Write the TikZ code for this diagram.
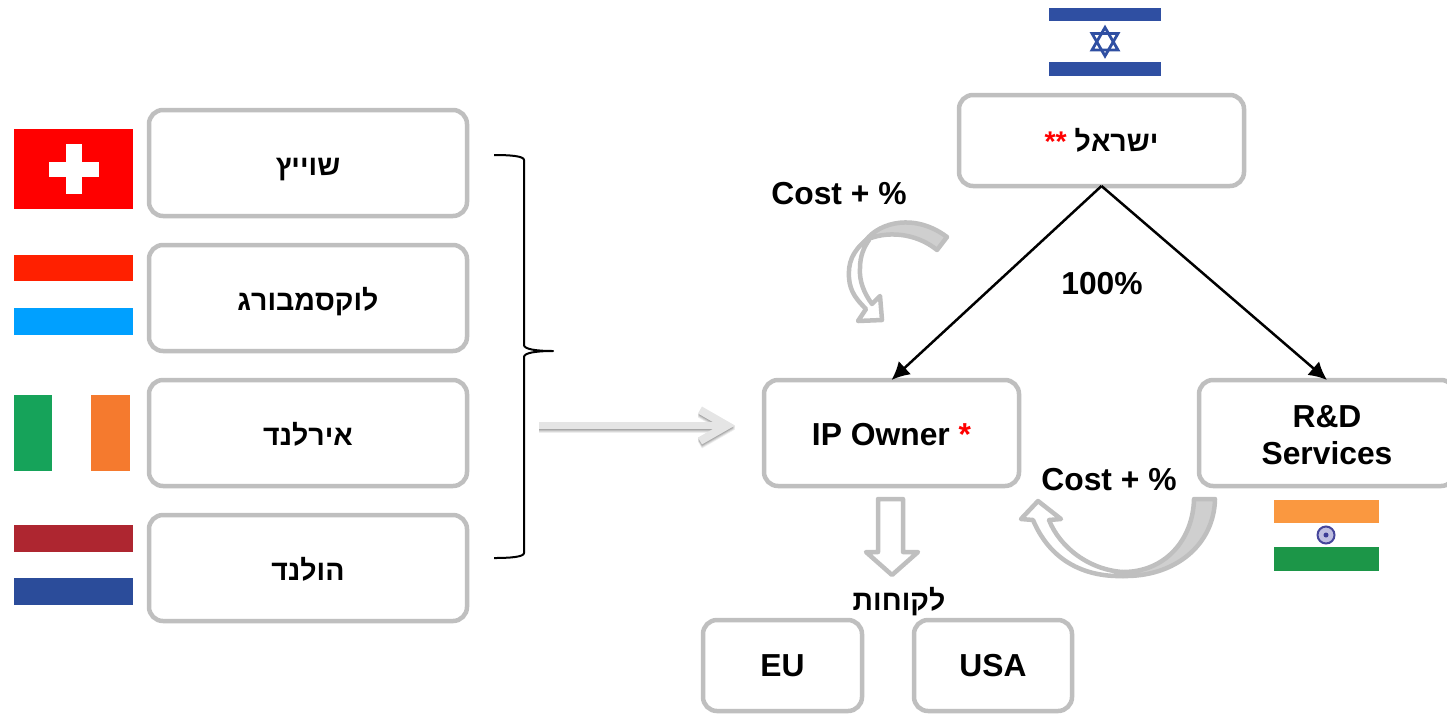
\documentclass[tikz,border=0pt]{standalone}
\usepackage{fontspec}
\setmainfont{Liberation Sans}
\usepackage{tikz}
\usetikzlibrary{arrows.meta}
\TeXXeTstate=1
\definecolor{boxgray}{HTML}{BFBFBF}
\definecolor{tailgray}{HTML}{CFCFCF}
\definecolor{isblue}{HTML}{2F4FA2}
\tikzset{
  box/.style={draw=boxgray,line width=4.5pt,rounded corners=14pt,fill=white,inner sep=0pt,outer sep=0pt,
    align=center,font=\bfseries\fontsize{31.8}{38}\selectfont},
  hebbox/.style={box,font=\bfseries\fontsize{28.5}{32}\selectfont,text height=24pt,text depth=0pt},
  lbl/.style={inner sep=0pt,align=center,font=\bfseries\fontsize{31.8}{38}\selectfont},
  hollow/.style={draw=boxgray,line width=4.5pt,line join=round,fill=white},
  link/.style={draw=black,line width=2.5pt,-{Latex[length=18pt,width=18pt]}},
  bigtip/.style={-{Straight Barb[length=27pt,width=31pt,line width=8pt]}}
}
\newcommand{\heb}[1]{\beginR #1\endR}
\begin{document}
\begin{tikzpicture}[x=1pt,y=-1pt]
\clip (0,0) rectangle (1447,713);

% left boxes
\foreach \nm/\yy/\txt in {swiss/163/שוייץ,lux/298/לוקסמבורג,ire/433/אירלנד,ned/568/הולנד}
  \node[hebbox,minimum width=318pt,minimum height=106pt] (\nm) at (308,\yy) {\heb{\txt}};

% flags
\fill[red] (14,129) rectangle (133,209);
\fill[white] (66,144) rectangle (82,194);
\fill[white] (49,162) rectangle (99,177);

\fill[fill={rgb,255:red,255;green,32;blue,0}] (14,255) rectangle (133,281);
\fill[fill={rgb,255:red,0;green,160;blue,255}] (14,308) rectangle (133,335);

\fill[fill={rgb,255:red,22;green,163;blue,90}] (14,395) rectangle (52,471);
\fill[fill={rgb,255:red,245;green,122;blue,46}] (91,395) rectangle (130,471);

\fill[fill={rgb,255:red,174;green,38;blue,48}] (14,525) rectangle (133,552);
\fill[fill={rgb,255:red,43;green,76;blue,154}] (14,578) rectangle (133,605);

\fill[isblue] (1049,8) rectangle (1161,21);
\fill[isblue] (1049,62) rectangle (1161,76);
\draw[isblue,line width=2.8pt,line join=miter] (1105,27.5) -- (1118,50) -- (1092,50) -- cycle;
\draw[isblue,line width=2.8pt,line join=miter] (1105,56) -- (1118,33.5) -- (1092,33.5) -- cycle;

\fill[fill={rgb,255:red,250;green,152;blue,64}] (1274,500) rectangle (1379,523);
\fill[fill={rgb,255:red,28;green,150;blue,72}] (1274,547) rectangle (1379,571);
\draw[fill={rgb,255:red,190;green,190;blue,225},draw={rgb,255:red,70;green,70;blue,155},line width=2pt] (1326,535) circle (8.5pt);
\fill[fill={rgb,255:red,60;green,60;blue,150}] (1326,535) circle (2.5pt);

% right boxes
\node[hebbox,text height=21pt,minimum width=285pt,minimum height=91pt] (israel) at (1101.5,140.5)
  {{\color{red}**} \heb{ישראל}};
\node[box,text height=24pt,text depth=0pt,minimum width=255pt,minimum height=106pt] (owner) at (891.5,433) {IP Owner {\color{red}*}};
\node[box,minimum width=256pt,minimum height=106pt] (rnd) at (1327,433) {\rule{0pt}{27pt}R\&D\\[-1pt]Services};
\node[box,minimum width=159pt,minimum height=91pt] (eu) at (782.5,665.5) {EU};
\node[box,minimum width=158pt,minimum height=91pt] (usa) at (993,665.5) {USA};

\draw[link] (israel.south) -- (owner.north);
\draw[link] (israel.south) -- (rnd.north);

% labels
\node[lbl] (costa) at (839,194) {Cost + \%};
\node[lbl] (pct) at (1102,284) {100\%};
\node[lbl] (costb) at (1109,480) {Cost + \%};
\node[lbl,font=\bfseries\fontsize{28.5}{32}\selectfont] (cust) at (899,602) {\heb{לקוחות}};

% brace
\draw[black,line width=2pt,line join=round] (494,155) .. controls (510,155) and (524,156) .. (524,160)
  -- (524,345) .. controls (524,349) and (535,351) .. (553,351)
  .. controls (535,351) and (524,353) .. (524,357) -- (524,553)
  .. controls (524,557) and (510,558) .. (494,558);

% big arrow
\coordinate (bigstart) at (539,425.5);
\coordinate (bigend) at (735,425.5);
\foreach \sh/\op in {4/0.07,3/0.09,2/0.11,1/0.13}
  \draw[black,opacity=\op,line width=7.5pt,bigtip]
    ([yshift=-\sh pt]bigstart) -- ([yshift=-\sh pt]bigend);
\draw[draw={rgb,255:red,229;green,229;blue,229},line width=7.5pt,bigtip]
  (bigstart) -- (bigend);

% customers arrow
\draw[hollow] (878,499) -- (903,499) -- (903,552) -- (918,552) -- (892,575) -- (866,552) -- (878,552) -- cycle;

% curved arrow top
\draw[hollow] (866,240) .. controls (852,252) and (848,263) .. (849,278)
  .. controls (850,292) and (857,300) .. (866,309) -- (858,321) -- (882,320) -- (880,296) -- (872,304)
  .. controls (864,293) and (859,281) .. (860,268)
  .. controls (860,256) and (864,247) .. (869,240) -- cycle;
\draw[draw=boxgray,line width=4.5pt,line join=round,fill=tailgray] (866,240)
  .. controls (880,222) and (915,213) .. (947,237) -- (937,250)
  .. controls (915,232) and (885,231) .. (866,240) -- cycle;

% curved arrow bottom
\draw[hollow] (1123,576) .. controls (1090,577) and (1052,565) .. (1033,520)
  -- (1021,519) -- (1038,501) -- (1061,519) -- (1049,520)
  .. controls (1060,548) and (1090,570) .. (1123,572) -- cycle;
\draw[draw=boxgray,line width=4.5pt,line join=round,fill=tailgray] (1123,576)
  .. controls (1175,577) and (1214,545) .. (1215,499) -- (1194,499)
  .. controls (1193,540) and (1165,572) .. (1123,572) -- cycle;

\end{tikzpicture}
\end{document}
